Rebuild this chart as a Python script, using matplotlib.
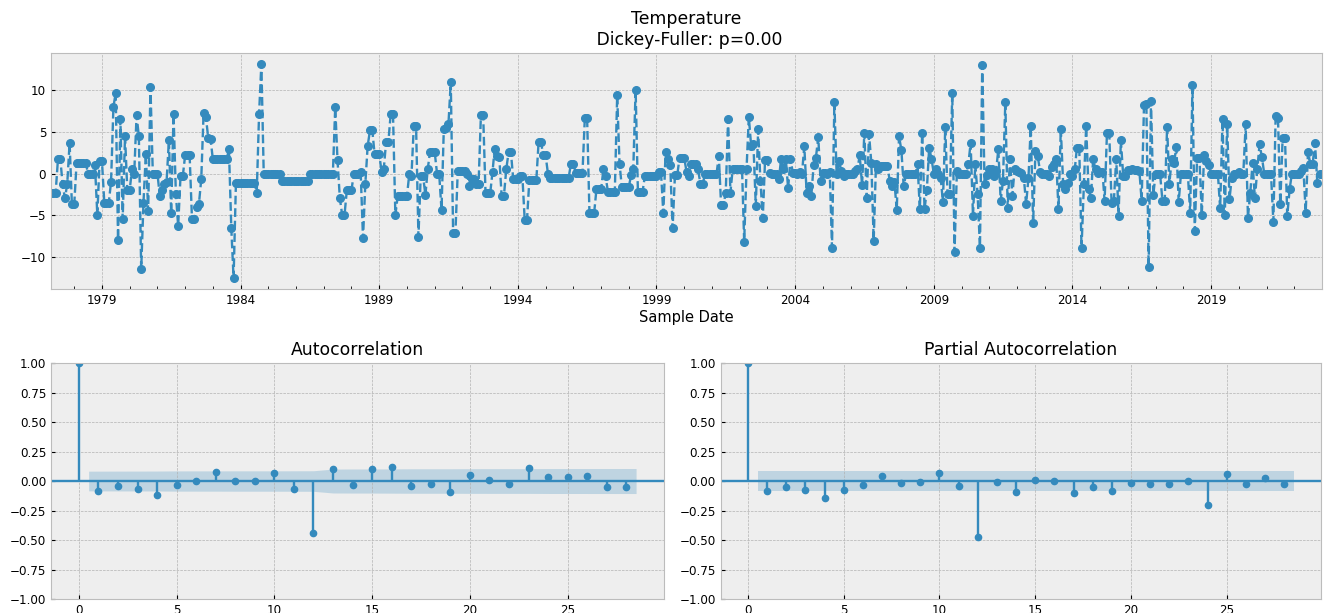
import numpy as np
import pandas as pd
import matplotlib
matplotlib.use("Agg")
import matplotlib.pyplot as plt
import matplotlib.dates as mdates
from matplotlib.ticker import FixedLocator
from datetime import datetime

# monthly values (seasonally differenced temperature), Mar 1977 .. Jan 2023
t1977 = [-2.3, -2.3, -2.3, 1.8, 1.8, -1.3, -3.0, -1.2, 3.7, -3.7]
t1978 = [-3.7, 1.3, 1.3, 1.3, 1.3, 1.3, 0.0, 0.0, 0.0, 1.0, -5.0, 1.5]
t1979 = [1.5, -3.5, -3.5, -3.5, -1.0, 8.0, 9.7, -8.0, 6.5, -5.5, 4.5, -2.0]
t1980 = [-2.0, 0.5, 0.0, 7.0, 4.5, -11.5, -3.5, 2.4, -4.5, 10.4, 0.0, 0.0]
t1981 = [0.0, -2.7, -2.0, -1.3, -1.0, 4.0, -4.8, 7.2, -2.5, -6.3, -0.3, -0.3]
t1982 = [2.2, 2.2, 2.2, -5.5, -5.5, -4.0, -3.7, -0.7, 7.3, 6.8, 4.3, 4.2]
t1983 = [1.7, 1.7, 1.7, 1.7, 1.7, 1.7, 1.7, 2.9, -6.6, -12.6, -1.1, -1.1]
t1984 = [-1.1, -1.1, -1.1, -1.1, -1.1, -1.1, -1.1, -2.3, 7.2, 13.2, 0.0, 0.0]
t1985 = [0.0, 0.0, 0.0, 0.0, 0.0, 0.0, -0.9, -0.9, -0.9, -0.9, -0.9, -0.9]
t1986 = [-0.9, -0.9, -0.9, -0.9, -0.9, -0.9, 0.0, 0.0, 0.0, 0.0, 0.0, 0.0]
t1987 = [0.0, 0.0, 0.0, 0.0, 0.0, 8.0, 1.6, -3.0, -5.0, -5.0, -2.0, -2.0]
t1988 = [-2.0, 0.0, 0.0, 0.0, 0.2, -7.8, -1.3, 3.3, 5.2, 5.2, 2.3, 2.3]
t1989 = [2.3, 0.2, 0.5, 3.8, 3.8, 7.2, 7.2, -5.0, -2.7, -2.7, -2.7, -2.7]
t1990 = [-2.7, 0.0, -0.3, 5.7, 5.7, -7.6, -0.3, -0.3, -2.6, 0.5, 2.6, 2.6]
t1991 = [2.6, 0.0, 0.0, -4.4, 5.3, 5.5, 5.9, 11.0, -7.2, -7.2, 0.3, 0.3]
t1992 = [0.3, 0.3, 0.0, -1.5, -0.7, -0.7, -1.3, -1.3, 7.0, 7.0, -2.4, -2.4]
t1993 = [-2.4, 0.2, 3.0, 2.1, 2.0, -2.7, -2.7, 0.5, 2.6, 2.6, -0.7, -0.7]
t1994 = [-0.7, -0.3, -0.3, -5.6, -5.6, -0.8, -0.8, -0.8, -0.8, 3.8, 3.8, 2.2]
t1995 = [2.2, 0.0, -0.5, -0.5, -0.5, -0.5, -0.5, -0.5, -0.5, -0.5, -0.5, 1.2]
t1996 = [1.2, 0.1, 0.1, 0.1, 0.1, 6.7, 6.7, -4.8, -4.8, -4.8, -1.9, -1.9]
t1997 = [-1.9, 0.5, -0.3, -2.2, -2.2, -2.2, -2.2, 9.4, 1.2, -1.6, -1.6, -1.6]
t1998 = [-1.6, -0.2, 0.5, 10.1, -2.2, -2.2, -2.2, -0.3, -0.3, -0.3, -0.3, -0.3]
t1999 = [-0.3, 0.2, 0.2, -4.8, 2.6, 1.7, 1.0, -6.6, -0.2, -0.2, 1.9, 1.9]
t2000 = [1.9, 0.2, -0.3, 1.1, 1.1, 1.1, 0.5, -1.2, -1.2, -0.1, -0.1, -0.1]
t2001 = [-0.1, -0.1, -0.1, 2.1, -3.8, -3.8, -2.3, 6.5, -2.3, 0.6, 0.6, 0.6]
t2002 = [0.6, 0.5, -8.2, 0.5, 6.8, 3.3, 3.5, -3.9, 5.3, -0.9, -5.4, 1.6]
t2003 = [1.6, 0.1, -0.1, -0.1, -0.1, -0.7, 1.8, 0.5, 1.7, -1.8, 1.8, 0.1]
t2004 = [0.1, 0.0, 0.2, 0.0, 3.3, -2.4, -1.5, -2.7, 1.0, 1.9, 4.4, -0.9]
t2005 = [0.1, 0.1, 0.0, 0.2, -8.9, 8.6, -0.1, 1.5, 0.3, -0.3, -0.1, -0.1]
t2006 = [-0.1, 0.0, 0.3, 0.5, 2.2, -1.4, 4.9, -2.9, 4.7, 1.3, -8.1, 1.1]
t2007 = [0.5, 0.9, 0.9, 0.9, 0.9, -0.9, -1.5, -1.0, -4.4, 4.5, 2.8, -1.5]
t2008 = [-0.1, -0.1, -0.1, -0.1, -0.1, 1.1, -4.3, 4.9, -4.3, -2.0, 3.1, 1.8]
t2009 = [0.0, 0.5, 0.0, -0.5, -3.4, 5.6, -2.5, -2.5, 9.7, -9.4, 0.3, 0.0]
t2010 = [0.0, 0.0, 0.0, 1.1, 3.7, -5.1, 1.1, -2.5, -8.9, 13.0, -1.3, -0.2]
t2011 = [0.5, 0.5, -0.3, 0.3, 2.9, -3.3, -0.9, 8.6, -4.1, 1.7, -2.7, 0.5]
t2012 = [0.3, 0.2, 0.1, -0.5, -3.7, -0.5, 5.7, -6.0, 2.7, 2.1, 0.2, 0.0]
t2013 = [0.0, 0.0, -0.3, 0.8, 1.1, 1.8, -4.3, 5.4, -1.3, -1.9, -1.1, 0.0]
t2014 = [-0.3, 0.5, 3.1, 3.1, -9.0, -1.3, 5.7, -1.9, -2.9, 1.7, 0.5, 0.1]
t2015 = [0.2, 0.2, -3.3, 4.9, 4.9, -3.6, -3.3, 1.8, -5.1, 4.0, -0.3, -0.3]
t2016 = [0.4, 0.4, 0.5, 0.4, 0.4, 0.3, -3.3, 8.2, 8.4, -11.3, 8.7, -2.6]
t2017 = [0.0, -0.1, -0.1, -3.3, -3.3, 5.6, -1.2, 1.7, 1.3, 3.2, -3.4, 0.0]
t2018 = [0.0, 0.0, 0.0, -4.7, 10.6, -6.9, 1.9, 1.9, -5.0, 2.2, 1.5, 1.0]
t2019 = [0.0, 0.0, 0.0, 0.0, -4.2, 6.5, -5.0, 5.9, -3.1, -0.5, 0.0, 0.0]
t2020 = [0.2, 0.0, 0.0, 5.9, -5.3, -2.3, 1.3, -3.0, 0.5, 3.5, 2.0, 0.0]
t2021 = [-0.1, -0.1, -0.1, -5.8, 6.9, 6.7, -3.7, 4.3, 4.3, -5.1, -1.9, 0.0]
t2022 = [0.0, 0.0, 0.0, 0.3, 0.7, -4.7, 2.6, 1.2, 1.2, 3.7, -1.1, 0.0]
t2023 = [0.0]

# correlogram values, lags 0..28
acf_vals = [1.0, -0.085, -0.042, -0.07, -0.12, -0.037, 0.0, 0.076, -0.003, 0.0,
            0.065, -0.07, -0.438, 0.105, -0.031, 0.105, 0.116, -0.042, -0.025, -0.096,
            0.054, 0.008, -0.023, 0.113, 0.034, 0.034, 0.04, -0.051, -0.048]
pacf_vals = [1.0, -0.082, -0.051, -0.079, -0.141, -0.076, -0.034, 0.042, -0.02, -0.011,
             0.071, -0.042, -0.475, -0.006, -0.096, 0.006, 0.003, -0.099, -0.054, -0.082,
             -0.02, -0.023, -0.028, 0.0, -0.203, 0.059, -0.023, 0.028, -0.023]

years = [t1977, t1978, t1979, t1980, t1981, t1982, t1983, t1984, t1985, t1986,
         t1987, t1988, t1989, t1990, t1991, t1992, t1993, t1994, t1995, t1996,
         t1997, t1998, t1999, t2000, t2001, t2002, t2003, t2004, t2005, t2006,
         t2007, t2008, t2009, t2010, t2011, t2012, t2013, t2014, t2015, t2016,
         t2017, t2018, t2019, t2020, t2021, t2022, t2023]
values = np.concatenate(years)
dates = pd.date_range("1977-03-01", periods=len(values), freq="MS")

plt.style.use("bmh")
plt.rcParams["xtick.direction"] = "in"
plt.rcParams["ytick.direction"] = "in"
BLUE = "#348ABD"
TICK_FS = 8.6
TITLE_FS = 12.4


def plot_corr(ax, vals, title, band):
    lags = np.arange(len(vals))
    vals = np.asarray(vals)
    ax.vlines(lags, 0, vals, colors=BLUE, linewidth=1.7)
    ax.axhline(0, color=BLUE, linewidth=1.7)
    ax.margins(0.05)
    ax.plot(lags, vals, "o", color=BLUE, markersize=4.5)
    x = lags[1:].astype(float)
    x[0] -= 0.5
    x[-1] += 0.5
    ax.fill_between(x, -band[1:], band[1:], color=BLUE, alpha=0.25, linewidth=0)
    ax.set_ylim(-1, 1)
    ax.set_title(title, fontsize=TITLE_FS)
    ax.tick_params(labelsize=TICK_FS, length=3)


def main():
    fig = plt.figure(figsize=(13.25, 6.13), dpi=100)
    ts_ax = fig.add_axes([0.0385, 0.5285, 0.9592, 0.385])
    acf_ax = fig.add_axes([0.0385, 0.0228, 0.4626, 0.385])
    pacf_ax = fig.add_axes([0.5439, 0.0228, 0.4531, 0.385])

    ts_ax.plot(dates, values, linestyle="--", marker="o", color=BLUE,
               linewidth=1.7, markersize=5.5)
    ts_ax.set_xlim(dates[0], dates[-1])
    majors = [datetime(y, 1, 1) for y in range(1979, 2020, 5)]
    ts_ax.xaxis.set_major_locator(FixedLocator(mdates.date2num(majors)))
    ts_ax.xaxis.set_major_formatter(mdates.DateFormatter("%Y"))
    ts_ax.xaxis.set_minor_locator(mdates.YearLocator(1))
    ts_ax.tick_params(labelsize=TICK_FS, length=3)
    ts_ax.tick_params(which="minor", length=2)
    ts_ax.set_xlabel("Sample Date", fontsize=10.5, labelpad=2)
    ts_ax.set_title("Temperature\n Dickey-Fuller: p=0.00", fontsize=TITLE_FS)

    n = len(values)
    acf_arr = np.asarray(acf_vals)
    var = np.ones(len(acf_arr)) / n
    var[0] = 0
    var[2:] *= 1 + 2 * np.cumsum(acf_arr[1:-1] ** 2)
    acf_band = 1.96 * np.sqrt(var)
    pacf_band = np.full(len(pacf_vals), 1.96 / np.sqrt(n))

    plot_corr(acf_ax, acf_vals, "Autocorrelation", acf_band)
    plot_corr(pacf_ax, pacf_vals, "Partial Autocorrelation", pacf_band)

    fig.savefig("out.png", dpi=100)


if __name__ == "__main__":
    main()
